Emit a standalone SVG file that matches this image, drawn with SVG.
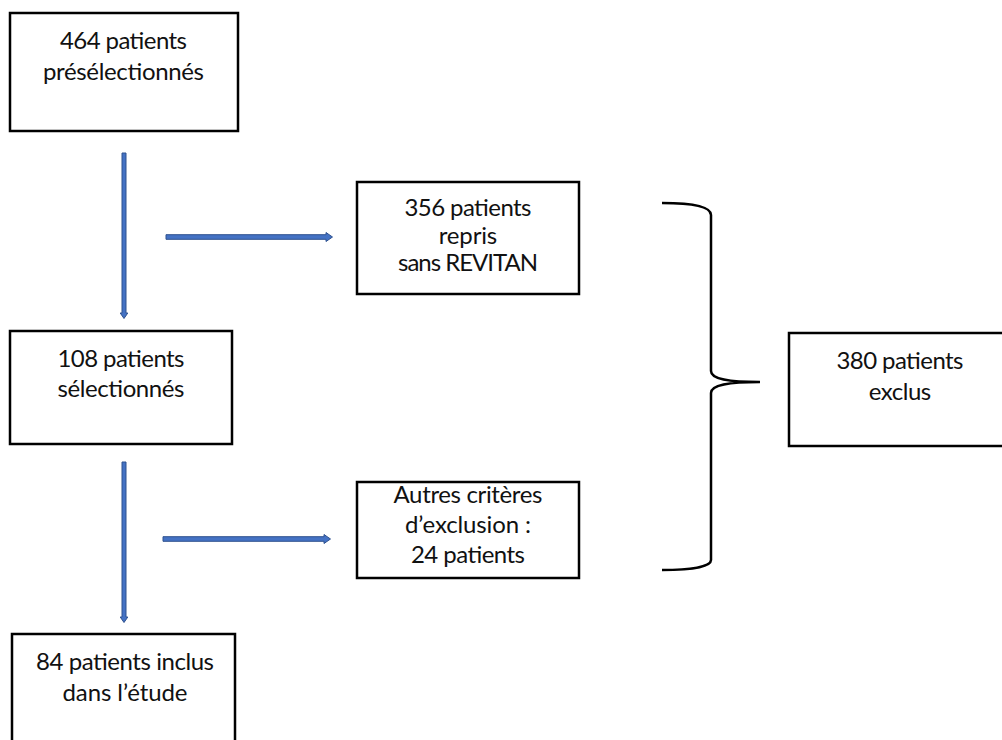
<svg xmlns="http://www.w3.org/2000/svg" width="1002" height="740" viewBox="0 0 1002 740">
<style>
.box{fill:#fff;stroke:#000;stroke-width:2.5}
.t{font-family:Lato,"Open Sans","Liberation Sans",sans-serif;font-size:24px;fill:#111;text-anchor:middle}
.arr{fill:#4472C4;stroke:#2F528F;stroke-width:1}
.brace{fill:none;stroke:#000;stroke-width:2.5}
</style>
<rect width="1002" height="740" fill="#fff"/>
<g id="connectors">
<path class="arr" d="M122,153 H126 V313 H127.8 L124,318.5 L120.2,313 H122 Z"/>
<path class="arr" d="M166,234.7 H326 V232.5 L332.5,237 L326,241.5 V239.3 H166 Z"/>
<path class="arr" d="M122,462 H126 V617 H127.8 L124,622.5 L120.2,617 H122 Z"/>
<path class="arr" d="M163,536.7 H324 V534.5 L330.5,539 L324,543.5 V541.3 H163 Z"/>
<path class="brace" d="M662,203 C690,203 711,206 711,215 L711,371 C711,379 728,382 760,382 C728,382 711,385 711,393 L711,560 C711,567 690,570 662,570"/>
</g>
<g id="n464">
<rect class="box" x="10" y="13" width="228" height="118"/>
<text class="t" x="123.5" y="49" textLength="127">464 patients</text>
<text class="t" x="123.5" y="80" textLength="161">présélectionnés</text>
</g>
<g id="n108">
<rect class="box" x="10" y="331" width="222" height="113"/>
<text class="t" x="121" y="367" textLength="127">108 patients</text>
<text class="t" x="121" y="397" textLength="127">sélectionnés</text>
</g>
<g id="n84">
<rect class="box" x="12" y="634" width="223" height="120"/>
<text class="t" x="125" y="670" textLength="178">84 patients inclus</text>
<text class="t" x="125" y="701" textLength="125">dans l’étude</text>
</g>
<g id="n356">
<rect class="box" x="357" y="182" width="222" height="112"/>
<text class="t" x="468" y="216" textLength="127">356 patients</text>
<text class="t" x="468" y="244" textLength="58.5">repris</text>
<text class="t" x="468" y="271" textLength="140">sans REVITAN</text>
</g>
<g id="nautres">
<rect class="box" x="357" y="482" width="222" height="96"/>
<text class="t" x="468" y="503" textLength="149">Autres critères</text>
<text class="t" x="468" y="533" textLength="126">d’exclusion :</text>
<text class="t" x="468" y="563" textLength="114">24 patients</text>
</g>
<g id="n380">
<rect class="box" x="789" y="333" width="222" height="113"/>
<text class="t" x="900" y="369" textLength="127">380 patients</text>
<text class="t" x="900" y="400" textLength="62.5">exclus</text>
</g>
</svg>
